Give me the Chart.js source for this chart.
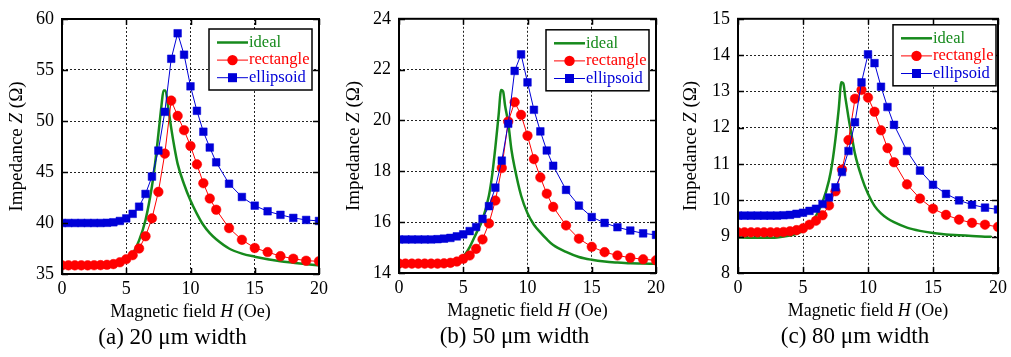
<!DOCTYPE html>
<html>
<head>
<meta charset="utf-8">
<script src="https://cdn.jsdelivr.net/npm/chart.js@4/dist/chart.umd.min.js"></script>
<style>
    html, body { margin: 0; padding: 0; background: #fff; }
    #wrap { position: relative; width: 1011px; height: 357px; }
    .panel { position: absolute; top: 0; width: 337px; height: 357px; }
</style>
</head>
<body>
<div id="wrap">
    <div class="panel" style="left:0px"><canvas id="chartA" width="337" height="357"></canvas></div>
    <div class="panel" style="left:337px"><canvas id="chartB" width="337" height="357"></canvas></div>
    <div class="panel" style="left:674px"><canvas id="chartC" width="337" height="357"></canvas></div>
</div>
<script>
/*
============================================================
Data
------------------------------------------------------------
field H (Oe) / impedance Z (ohm)
============================================================
*/

const seriesNames = ["ideal", "rectangle", "ellipsoid"];

const fieldSteps = [
    0, 0.5, 1, 1.5, 2, 2.5, 3, 3.5, 4, 4.5, 5, 5.5, 6, 6.5, 7, 7.5,
    8, 8.5, 9, 9.5, 10, 10.5, 11, 11.5, 12, 13, 14, 15, 16, 17, 18, 19, 20
];

// (a) 20 um
const idealFieldA = [0, 1, 2, 3, 4, 4.5, 5, 5.5, 6, 6.5, 7, 7.25, 7.5, 7.75, 7.9, 8.05, 8.25, 8.5, 8.75, 9, 9.5, 10, 10.5, 11, 11.5, 12, 13, 14, 15, 16, 17, 18, 19, 20];
const idealA = [35.8, 35.8, 35.8, 35.82, 35.9, 36.1, 36.4, 37.0, 38.3, 40.3, 43.6, 45.9, 48.7, 51.6, 53.0, 53.0, 51.5, 49.3, 47.4, 45.8, 43.8, 42.2, 40.9, 39.8, 39.0, 38.4, 37.5, 37.0, 36.7, 36.45, 36.25, 36.1, 35.95, 35.85];
const rectangleA = [35.85, 35.85, 35.85, 35.85, 35.85, 35.86, 35.87, 35.9, 35.97, 36.15, 36.45, 36.85, 37.5, 38.7, 40.45, 43.05, 46.8, 52.0, 50.5, 49.1, 47.55, 45.75, 43.9, 42.4, 41.3, 39.5, 38.35, 37.55, 37.15, 36.75, 36.5, 36.3, 36.25];
const ellipsoidA = [40.0, 40.0, 40.0, 40.0, 40.0, 40.0, 40.0, 40.02, 40.07, 40.2, 40.45, 40.9, 41.6, 42.85, 44.55, 47.1, 50.9, 56.1, 58.6, 56.5, 53.4, 51.0, 48.95, 47.4, 45.95, 43.85, 42.55, 41.7, 41.15, 40.8, 40.5, 40.3, 40.2];

// (b) 50 um
const idealFieldB = [0, 1, 2, 3, 4, 4.5, 5, 5.5, 6, 6.5, 7, 7.25, 7.5, 7.75, 7.95, 8.1, 8.25, 8.5, 8.75, 9, 9.5, 10, 10.5, 11, 11.5, 12, 13, 14, 15, 16, 17, 18, 19, 20];
const idealB = [14.36, 14.36, 14.36, 14.37, 14.42, 14.5, 14.65, 15.02, 15.55, 16.1, 17.05, 17.85, 18.95, 20.2, 21.2, 21.15, 20.6, 19.9, 18.85, 18.15, 17.05, 16.35, 15.9, 15.6, 15.33, 15.1, 14.83, 14.63, 14.52, 14.45, 14.41, 14.38, 14.37, 14.36];
const rectangleB = [14.37, 14.37, 14.37, 14.37, 14.37, 14.37, 14.37, 14.38, 14.4, 14.45, 14.56, 14.69, 14.95, 15.32, 15.95, 16.85, 18.13, 19.96, 20.72, 20.22, 19.4, 18.48, 17.76, 17.12, 16.6, 15.87, 15.35, 15.03, 14.82, 14.69, 14.6, 14.54, 14.5];
const ellipsoidB = [15.32, 15.32, 15.32, 15.32, 15.32, 15.32, 15.33, 15.35, 15.38, 15.44, 15.52, 15.65, 15.81, 16.13, 16.63, 17.36, 18.42, 19.87, 21.95, 22.6, 21.5, 20.42, 19.57, 18.82, 18.22, 17.27, 16.65, 16.2, 15.97, 15.8, 15.67, 15.56, 15.5];

// (c) 80 um
const idealFieldC = [0, 1, 2, 3, 4, 4.5, 5, 5.5, 6, 6.5, 7, 7.25, 7.5, 7.75, 7.95, 8.1, 8.25, 8.5, 8.75, 9, 9.5, 10, 10.5, 11, 11.5, 12, 13, 14, 15, 16, 17, 18, 19, 19.5];
const idealC = [8.98, 8.97, 8.97, 8.98, 9.03, 9.08, 9.16, 9.32, 9.57, 9.95, 10.55, 11.03, 11.7, 12.52, 13.25, 13.22, 12.85, 12.28, 11.77, 11.28, 10.65, 10.18, 9.85, 9.64, 9.5, 9.4, 9.25, 9.16, 9.1, 9.06, 9.04, 9.02, 9.0, 9.0];
const rectangleC = [9.12, 9.12, 9.12, 9.12, 9.12, 9.12, 9.12, 9.13, 9.15, 9.18, 9.23, 9.33, 9.44, 9.59, 9.86, 10.25, 10.85, 11.66, 12.8, 13.04, 12.83, 12.44, 11.93, 11.44, 11.05, 10.44, 10.05, 9.77, 9.6, 9.47, 9.38, 9.33, 9.27];
const ellipsoidC = [9.58, 9.58, 9.58, 9.58, 9.58, 9.58, 9.58, 9.59, 9.6, 9.63, 9.66, 9.71, 9.77, 9.9, 10.08, 10.36, 10.78, 11.36, 12.15, 13.25, 14.02, 13.78, 13.13, 12.57, 12.08, 11.36, 10.82, 10.43, 10.18, 10.0, 9.88, 9.8, 9.75];

// axis ranges [min, max, step]
const xRange = [0, 20, 5];
const yRangeA = [35, 60, 5];
const yRangeB = [14, 24, 2];
const yRangeC = [8, 15, 1];

const captions = ["(a) 20 \u03bcm width", "(b) 50 \u03bcm width", "(c) 80 \u03bcm width"];

/*
------------------------------------------------------------
Styles
------------------------------------------------------------
*/

const FONT = '"Liberation Serif", "Times New Roman", serif';
const GREEN = "#168a1c";
const RED = "#ff0000";
const BLUE = "#0000d8";

function pairs(xs, ys) {
    return xs.map((x, i) => ({ x: x, y: ys[i] }));
}

function drawRich(ctx, parts, cx, cy, size) {
    const fonts = parts.map(p => (p.i ? "italic " : "") + size + "px " + FONT);
    let total = 0;
    const widths = parts.map((p, k) => {
        ctx.font = fonts[k];
        const w = ctx.measureText(p.t).width;
        total += w;
        return w;
    });
    let xPos = cx - total / 2;
    ctx.textAlign = "left";
    ctx.textBaseline = "middle";
    parts.forEach((p, k) => {
        ctx.font = fonts[k];
        ctx.fillText(p.t, xPos, cy);
        xPos += widths[k];
    });
}

/*
------------------------------------------------------------
Frame, inward ticks, legend, titles
------------------------------------------------------------
*/

const panelDecor = {
    id: "panelDecor",
    afterDraw(chart, args, opts) {
        const ctx = chart.ctx;
        const area = chart.chartArea;
        const xs = chart.scales.x;
        const ys = chart.scales.y;

        ctx.save();

        // inward ticks
        ctx.strokeStyle = "#000";
        ctx.lineWidth = 1.5;
        ctx.beginPath();
        xs.ticks.forEach(t => {
            const px = Math.round(xs.getPixelForValue(t.value)) + 0.5;
            ctx.moveTo(px, area.bottom);
            ctx.lineTo(px, area.bottom - 6);
            ctx.moveTo(px, area.top);
            ctx.lineTo(px, area.top + 6);
        });
        ys.ticks.forEach(t => {
            const py = Math.round(ys.getPixelForValue(t.value)) + 0.5;
            ctx.moveTo(area.left, py);
            ctx.lineTo(area.left + 6, py);
            ctx.moveTo(area.right, py);
            ctx.lineTo(area.right - 6, py);
        });
        ctx.stroke();

        // frame
        ctx.lineWidth = 2;
        ctx.strokeRect(area.left, area.top, area.right - area.left, area.bottom - area.top);

        // legend
        const bw = 103, bh = 61;
        const bx = area.right - opts.legendGap[0] - bw;
        const by = area.top + opts.legendGap[1];
        ctx.fillStyle = "#fff";
        ctx.fillRect(bx, by, bw, bh);
        ctx.lineWidth = 1.5;
        ctx.strokeStyle = "#000";
        ctx.strokeRect(bx, by, bw, bh);

        chart.data.datasets.forEach((ds, i) => {
            const ry = by + 13.5 + i * 17.6;
            ctx.strokeStyle = ds.borderColor;
            ctx.lineWidth = ds.borderWidth;
            ctx.beginPath();
            ctx.moveTo(bx + 8, ry);
            ctx.lineTo(bx + 39, ry);
            ctx.stroke();
            ctx.fillStyle = ds.borderColor;
            if (ds.pointStyle === "circle") {
                ctx.beginPath();
                ctx.arc(bx + 23.5, ry, 5.2, 0, Math.PI * 2);
                ctx.fill();
            } else if (ds.pointStyle === "rect") {
                ctx.fillRect(bx + 23.5 - 4.5, ry - 4.5, 9, 9);
            }
            ctx.font = "16.5px " + FONT;
            ctx.textAlign = "left";
            ctx.textBaseline = "middle";
            ctx.fillText(ds.label, bx + 40, ry);
        });

        // axis titles
        ctx.fillStyle = "#000";
        const midX = (area.left + area.right) / 2;
        const midY = (area.top + area.bottom) / 2;
        drawRich(ctx, [{ t: "Magnetic field " }, { t: "H", i: true }, { t: " (Oe)" }], midX, area.bottom + 38, 18);

        ctx.save();
        ctx.translate(17, midY);
        ctx.rotate(-Math.PI / 2);
        drawRich(ctx, [{ t: "Impedance " }, { t: "Z", i: true }, { t: " (\u03a9)" }], 0, 0, 19);
        ctx.restore();

        // caption
        ctx.font = "23px " + FONT;
        ctx.textAlign = "center";
        ctx.textBaseline = "middle";
        ctx.fillText(opts.caption, midX + opts.captionDx, area.bottom + 64);

        ctx.restore();
    }
};

/*
------------------------------------------------------------
Chart creation
------------------------------------------------------------
*/

function makePanel(canvasId, cfg) {

    const ctx = document.getElementById(canvasId).getContext("2d");

    return new Chart(ctx, {

        type: "line",

        data: {
            datasets: [
                {
                    label: seriesNames[0],
                    data: pairs(cfg.idealField, cfg.ideal),
                    borderColor: GREEN,
                    borderWidth: 2.5,
                    pointRadius: 0,
                    cubicInterpolationMode: "monotone",
                    order: 3
                },
                {
                    label: seriesNames[1],
                    data: pairs(fieldSteps, cfg.rectangle),
                    borderColor: RED,
                    backgroundColor: RED,
                    borderWidth: 1,
                    pointStyle: "circle",
                    pointRadius: 4.8,
                    pointBorderWidth: 0.5,
                    pointBorderColor: RED,
                    pointBackgroundColor: RED,
                    order: 2
                },
                {
                    label: seriesNames[2],
                    data: pairs(fieldSteps, cfg.ellipsoid),
                    borderColor: BLUE,
                    backgroundColor: BLUE,
                    borderWidth: 1,
                    pointStyle: "rect",
                    pointRadius: 5.4,
                    pointBorderWidth: 0.5,
                    pointBorderColor: BLUE,
                    pointBackgroundColor: BLUE,
                    order: 1
                }
            ]
        },

        options: {
            responsive: false,
            animation: false,
            devicePixelRatio: 1,
            layout: {
                padding: { left: 0, top: cfg.top, right: cfg.right, bottom: 0 }
            },
            plugins: {
                legend: { display: false },
                tooltip: { enabled: false },
                title: { display: false },
                panelDecor: {
                    caption: cfg.caption,
                    captionDx: cfg.captionDx,
                    legendGap: cfg.legendGap
                }
            },
            scales: {
                x: {
                    type: "linear",
                    min: xRange[0],
                    max: xRange[1],
                    afterFit(scale) { scale.height = cfg.xHeight; },
                    ticks: {
                        stepSize: xRange[2],
                        color: "#000",
                        padding: 4,
                        maxRotation: 0,
                        font: { family: FONT, size: 18 }
                    },
                    grid: { color: "#222", lineWidth: 1, drawTicks: false },
                    border: { display: false, dash: [2, 2] }
                },
                y: {
                    type: "linear",
                    min: cfg.yRange[0],
                    max: cfg.yRange[1],
                    afterFit(scale) { scale.width = cfg.yWidth; },
                    ticks: {
                        stepSize: cfg.yRange[2],
                        color: "#000",
                        padding: 8,
                        font: { family: FONT, size: 18 }
                    },
                    grid: { color: "#222", lineWidth: 1, drawTicks: false },
                    border: { display: false, dash: [2, 2] }
                }
            }
        },

        plugins: [panelDecor]

    });

}

makePanel("chartA", {
    idealField: idealFieldA, ideal: idealA, rectangle: rectangleA, ellipsoid: ellipsoidA,
    yRange: yRangeA, caption: captions[0],
    yWidth: 62, xHeight: 83, top: 19, right: 18, legendGap: [7, 10], captionDx: -18
});

makePanel("chartB", {
    idealField: idealFieldB, ideal: idealB, rectangle: rectangleB, ellipsoid: ellipsoidB,
    yRange: yRangeB, caption: captions[1],
    yWidth: 62, xHeight: 84, top: 18, right: 18, legendGap: [7, 11], captionDx: -13
});

makePanel("chartC", {
    idealField: idealFieldC, ideal: idealC, rectangle: rectangleC, ellipsoid: ellipsoidC,
    yRange: yRangeC, caption: captions[2],
    yWidth: 64, xHeight: 84, top: 14, right: 11, legendGap: [2, 6], captionDx: -13
});
</script>
</body>
</html>
